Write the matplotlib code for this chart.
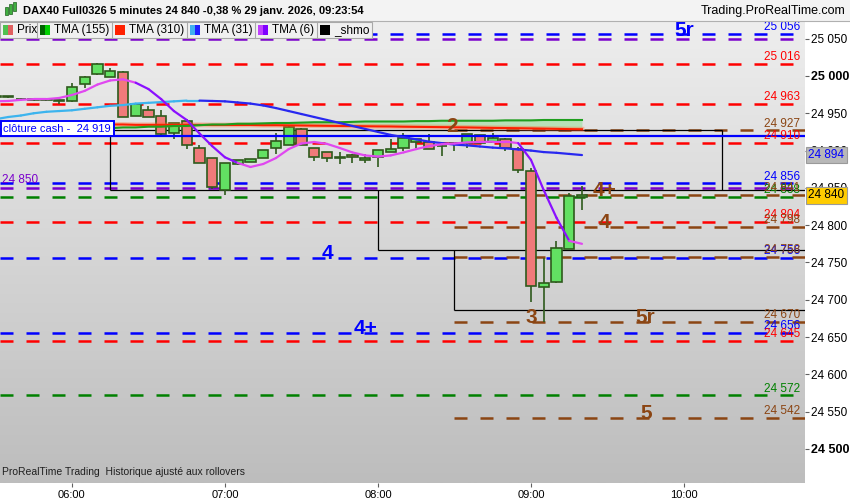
import matplotlib
matplotlib.use("Agg")
import matplotlib.pyplot as plt
import matplotlib.dates as mdates
import matplotlib.transforms as mtransforms
from matplotlib.collections import LineCollection
from matplotlib.colors import LinearSegmentedColormap
from matplotlib.patches import Rectangle
import numpy as np
import pandas as pd

plt.rcParams['font.family'] = ['Liberation Sans', 'DejaVu Sans']

# bougies 5 minutes DAX40, de 05:30 a 09:20
heures = pd.date_range("2026-01-29 05:30", periods=47, freq="5min")
ouv = [24972, 24972, 24969, 24968, 24968, 24967,
       24966, 24989, 25002, 24999, 25006, 24947, 24955, 24947, 24923, 24940,
       24903, 24890, 24847, 24882, 24885, 24890, 24903, 24908, 24929, 24904,
       24898, 24892, 24894, 24887, 24892, 24898, 24904, 24912, 24912, 24906,
       24910, 24910, 24921, 24911, 24916, 24902, 24873, 24717, 24724, 24768, 24838]
haut = [24973, 24973, 24970, 24969, 24969, 24968,
        24990, 25000, 25017, 25011, 25007, 24963, 24960, 24954, 24937, 24942,
        24908, 24890, 24883, 24887, 24889, 24901, 24923, 24933, 24930, 24904,
        24898, 24898, 24896, 24896, 24901, 24916, 24923, 24916, 24922, 24907,
        24911, 24922, 24921, 24924, 24917, 24905, 24876, 24756, 24779, 24843, 24852]
bas = [24972, 24971, 24968, 24967, 24967, 24963,
       24965, 24984, 25001, 24999, 24945, 24947, 24945, 24921, 24916, 24902,
       24883, 24848, 24840, 24881, 24885, 24890, 24895, 24908, 24908, 24886,
       24885, 24882, 24884, 24883, 24878, 24898, 24900, 24904, 24902, 24893,
       24900, 24904, 24910, 24911, 24900, 24870, 24697, 24670, 24723, 24768, 24821]
clot = [24972.5, 24972.5, 24969.5, 24968.5, 24968.5, 24967.5,
        24985, 24998, 25016, 25007, 24945, 24963, 24945, 24922, 24937, 24908,
        24883, 24851, 24883, 24887, 24889, 24901, 24913, 24931, 24908, 24891,
        24890, 24890, 24891, 24890, 24901, 24902, 24917, 24916, 24902, 24906,
        24910, 24922, 24910, 24917, 24904, 24874, 24718, 24722, 24769, 24839, 24840]

# moyennes mobiles
tma155 = [24929, 24929, 24929, 24929, 24929, 24930, 24930, 24930, 24930, 24930,
          24931, 24931, 24932, 24932, 24933, 24933, 24934, 24935, 24935, 24936,
          24936, 24936.5, 24937, 24937, 24937.5, 24938, 24938, 24938, 24938.5, 24939,
          24939, 24939, 24939, 24939.5, 24939.5, 24940, 24940, 24940, 24940, 24940,
          24940.5, 24940.5, 24940.5, 24941, 24941, 24941, 24941]
tma310 = [24936, 24936, 24936, 24935.5, 24935.5, 24935.5, 24935, 24935, 24935, 24935,
          24935, 24934.5, 24934.5, 24934.5, 24934.5, 24934.5, 24934.5, 24934.3, 24934.3, 24934.3,
          24934.3, 24934, 24934, 24933.8, 24933.6, 24933.4, 24933.2, 24933, 24932.8, 24932.6,
          24932.4, 24932.3, 24932, 24931.8, 24931.6, 24931.4, 24931.2, 24931, 24930.7, 24930.4,
          24930.2, 24930, 24929.7, 24929.4, 24929.1, 24928.8, 24928.6]
tma31 = [24942, 24945, 24947, 24950, 24952, 24953, 24954, 24956, 24958, 24960,
         24961, 24963, 24964, 24965, 24966, 24967, 24967, 24966.5, 24966, 24964.5,
         24963, 24960.5, 24957, 24953, 24949, 24945, 24941, 24937, 24933, 24929,
         24925, 24921, 24918, 24915, 24912, 24910, 24908, 24907, 24905.5, 24904,
         24903, 24901.5, 24900, 24898, 24897, 24895.5, 24894]
tma6 = [24966, 24966.5, 24968, 24969, 24969, 24970.5, 24974.5, 24980, 24988.5, 24994,
        24995.5, 24991, 24982.5, 24969, 24953, 24941, 24923, 24906, 24891, 24883.5,
        24878, 24882, 24890, 24902, 24909.5, 24911.5, 24909, 24903.5, 24897.5, 24893.5,
        24892, 24893.5, 24897.5, 24902, 24906, 24908.5, 24909.5, 24911, 24911.5, 24912,
        24912, 24910, 24887.5, 24847, 24810, 24779, 24775]

# niveaux horizontaux
niv_bleu = [25056, 24856, 24756, 24656]
niv_violet = [25050, 24850]
niv_rouge = [25016, 24963, 24910, 24804, 24645]
niv_vert = [24838, 24572]
niv_marron = [24927, 24841, 24798, 24758, 24670, 24542]
debut_marron = "08:30"
cloture_cash = 24919
escalier_niv = [24927, 24847, 24767, 24686]
escalier_deb = ["06:15", "06:15", "08:00", "08:30"]
escalier_fin_haut = "10:15"

rep_bleu = [("5r", "10:00", 25056), ("4", "07:40", 24756), ("4+", "07:55", 24656)]
rep_marron = [("2", "08:29", 24927), ("4+", "09:29", 24841), ("4", "09:29", 24798),
              ("3", "09:00", 24670), ("5r", "09:45", 24670), ("5", "09:45", 24542)]

dernier = 24840
tma31_dernier = 24894
graduations = [24500, 24550, 24600, 24650, 24700, 24750, 24800, 24850, 24900, 24950, 25000, 25050]
heures_axe = ["06:00", "07:00", "08:00", "09:00", "10:00"]

BLEU = '#0000ff'
VIOLET = '#7a00cc'
ROUGE = '#ff0000'
VERT = '#008000'
MARRON = '#8b4513'


def t(hm):
    return mdates.date2num(pd.Timestamp("2026-01-29 " + hm))


def fmt(v):
    return f"{int(round(v)):,}".replace(",", " ")


W, H = 850, 500
fig = plt.figure(figsize=(8.5, 5), dpi=100)
fig.patch.set_facecolor('white')
ax = fig.add_axes([0, 17 / H, 805 / W, 462 / H])

xmin = t("06:00") - 28.2 / 1440
xmax = t("10:00") + 47.45 / 1440

# fond degrade gris
fond = LinearSegmentedColormap.from_list('fond', ['#eeeeee', '#bdbdbd'])
ax.imshow(np.linspace(0, 1, 256).reshape(-1, 1), cmap=fond, extent=[0, 1, 0, 1],
          transform=ax.transAxes, aspect='auto', zorder=0)

tiret = (0, (5.2, 5.2))
blend = mtransforms.blended_transform_factory(ax.transAxes, ax.transData)

for v in niv_bleu:
    ax.axhline(v, color=BLEU, lw=1.8, ls=tiret, zorder=2)
for v in niv_violet:
    ax.axhline(v - 0.1, color=VIOLET, lw=1.8, ls=tiret, zorder=2)
for v in niv_rouge:
    ax.axhline(v, color=ROUGE, lw=1.8, ls=tiret, zorder=2)
for v in niv_vert:
    ax.axhline(v, color=VERT, lw=1.8, ls=tiret, zorder=2)
for v in niv_marron:
    ax.hlines(v, t(debut_marron), xmax, color=MARRON, lw=1.8, linestyles=[tiret], zorder=2)

# etiquettes des niveaux a droite
for liste, coul in [(niv_bleu, BLEU), (niv_rouge, ROUGE), (niv_vert, VERT), (niv_marron, MARRON)]:
    for v in liste:
        ax.text(0.994, v + 1, fmt(v), transform=blend, ha='right', va='bottom',
                color=coul, fontsize=8.5, zorder=6)
ax.text(0.003, niv_violet[1] + 2, fmt(niv_violet[1]), transform=blend, ha='left', va='bottom',
        color=VIOLET, fontsize=8.5, zorder=6)

# escalier de lignes noires
for i, (niv, deb) in enumerate(zip(escalier_niv, escalier_deb)):
    x2 = t(escalier_fin_haut) if i == 0 else xmax
    ax.hlines(niv, t(deb), x2, color='black', lw=0.9, zorder=2.5)
for i in range(1, len(escalier_niv)):
    ax.vlines(t(escalier_deb[i]), escalier_niv[i], escalier_niv[i - 1], color='black', lw=0.9, zorder=2.5)
ax.vlines(t(escalier_fin_haut), escalier_niv[1], escalier_niv[0], color='black', lw=0.9, zorder=2.5)

# cloture cash
ax.axhline(cloture_cash, color=BLEU, lw=1.6, zorder=4)
ax.annotate("clôture cash -  " + fmt(cloture_cash), xy=(0.0, cloture_cash), xycoords=blend,
            xytext=(2.5, 2.0), textcoords='offset points', ha='left', va='bottom',
            color=BLEU, fontsize=8, zorder=7,
            bbox=dict(boxstyle='square,pad=0.22', fc='white', ec=BLEU, lw=1.4))

# bougies
x = mdates.date2num(heures)
o = np.array(ouv)
c = np.array(clot)
hausse = c >= o
larg = 4.05 / 1440
ax.vlines(x, bas, haut, color='#2e5a1c', lw=1.2, zorder=3)
ax.bar(x, np.maximum(np.abs(c - o), 0.8), bottom=np.minimum(o, c), width=larg,
       color=np.where(hausse, '#62e062', '#f07a7a'), edgecolor='#2e5a1c', linewidth=1.2, zorder=3.5)


def trace_ma(vals, c_hausse, c_baisse, seuil=0.0, lw=1.6, z=5):
    v = np.array(vals, float)
    pts = np.column_stack([x, v])
    segs = np.stack([pts[:-1], pts[1:]], axis=1)
    cols = [c_hausse if d >= -seuil else c_baisse for d in np.diff(v)]
    ax.add_collection(LineCollection(segs, colors=cols, linewidths=lw, zorder=z, capstyle='round'))


g = np.array(tma155)
r = np.array(tma310)
ax.fill_between(x, r, g, where=g > r, color='#8fe08f', alpha=0.5, zorder=4, lw=0)
ax.plot(x, r, color='#ff6a30', lw=3.5, alpha=0.35, zorder=4.2)
ax.plot(x, r, color='#ff2000', lw=1.5, zorder=4.3)
ax.plot(x, g, color='#1e9e1e', lw=1.5, zorder=4.4)
trace_ma(tma31, '#3cb4ee', '#2828f0', seuil=0.0)
trace_ma(tma6, '#e048f0', '#8a10ff', seuil=6.0)

# reperes en gros caracteres
for txt, hm, v in rep_bleu:
    ax.annotate(txt, xy=(t(hm), v), xytext=(0, 3), textcoords='offset points', ha='center', va='center',
                color=BLEU, fontsize=15, fontweight='bold', zorder=8)
for txt, hm, v in rep_marron:
    ax.annotate(txt, xy=(t(hm), v), xytext=(0, 3), textcoords='offset points', ha='center', va='center',
                color=MARRON, fontsize=15, fontweight='bold', zorder=8)

ax.text(0.003, 0.012, "ProRealTime Trading  Historique ajusté aux rollovers", transform=ax.transAxes,
        ha='left', va='bottom', fontsize=7.5, color='#202020', zorder=8)

ax.set_xlim(xmin, xmax)
ax.set_ylim(24454.4, 25073.7)
for s in ax.spines.values():
    s.set_visible(False)

ax.yaxis.tick_right()
ax.set_yticks(graduations, [fmt(v) for v in graduations])
for lab, v in zip(ax.get_yticklabels(), graduations):
    if v % 500 == 0:
        lab.set_fontweight('bold')
        lab.set_fontsize(9)
    else:
        lab.set_fontsize(8.5)
ax.tick_params(axis='y', direction='out', length=3, color='#606060', pad=1.5)
ax.set_xticks([t(h) for h in heures_axe], heures_axe)
ax.tick_params(axis='x', direction='out', length=3, color='#606060', labelsize=8, pad=2)

# etiquettes de prix a droite
ax.text(1.004, tma31_dernier, fmt(tma31_dernier), transform=blend, ha='left', va='center',
        color=BLEU, fontsize=8.5, zorder=10, clip_on=False,
        bbox=dict(boxstyle='square,pad=0.2', fc='#b8b8b8', ec='#9a9a9a', lw=0.8))
ax.text(1.004, dernier, fmt(dernier), transform=blend, ha='left', va='center',
        color='black', fontsize=8.5, zorder=10, clip_on=False,
        bbox=dict(boxstyle='square,pad=0.2', fc='#ffcc00', ec='#9a9a9a', lw=0.8))


# en-tete et legende (coordonnees en pixels)
def px(x0, y0, w, h):
    return (x0 / W, 1 - (y0 + h) / H), w / W, h / H


xy, w, h = px(0, 0, W, 21)
fig.add_artist(Rectangle(xy, w, h, transform=fig.transFigure, fc='#f3f3f3', ec='none', zorder=20))
fig.add_artist(plt.Line2D([0, 1], [1 - 20.5 / H] * 2, transform=fig.transFigure, color='#b0b0b0', lw=0.8, zorder=21))
for dx, y0, hh in [(6, 7, 8), (10, 4, 10), (14, 2, 9)]:
    xy, w, h = px(dx - 1.5, y0, 3, hh)
    fig.add_artist(Rectangle(xy, w, h, transform=fig.transFigure, fc='#40b040', ec='#206020', lw=0.5, zorder=22))
fig.text(23 / W, 1 - 11 / H, "DAX40 Full0326 5 minutes 24 840 -0,38 % 29 janv. 2026, 09:23:54",
         ha='left', va='center', fontsize=8, fontweight='bold', zorder=22)
fig.text(845 / W, 1 - 11 / H, "Trading.ProRealTime.com", ha='right', va='center', fontsize=9, zorder=22)

legende = ["Prix", "TMA (155)", "TMA (310)", "TMA (31)", "TMA (6)", "_shmo"]
pastilles = [('#50c050', '#e06060'), ('#006400', '#00d000'), ('#ff2000', '#ff2000'),
             ('#40b0f0', '#2020ff'), ('#c040ff', '#8000ff'), ('#000000', '#000000')]
separ = [0, 37, 112, 187, 255, 317, 372]
xy, w, h = px(0, 22, separ[-1], 16)
fig.add_artist(Rectangle(xy, w, h, transform=fig.transFigure, fc='#f0f0f0', ec='#a8a8a8', lw=0.8, zorder=20))
for i, (nom, (c1, c2)) in enumerate(zip(legende, pastilles)):
    x0 = separ[i]
    xy, w, h = px(x0 + 3, 25, 5, 10)
    fig.add_artist(Rectangle(xy, w, h, transform=fig.transFigure, fc=c1, ec='none', zorder=21))
    xy, w, h = px(x0 + 8, 25, 5, 10)
    fig.add_artist(Rectangle(xy, w, h, transform=fig.transFigure, fc=c2, ec='none', zorder=21))
    fig.text((x0 + 17) / W, 1 - 30 / H, nom, ha='left', va='center', fontsize=8.5, zorder=22)
    if i > 0:
        fig.add_artist(plt.Line2D([x0 / W] * 2, [1 - 22 / H, 1 - 38 / H], transform=fig.transFigure,
                                  color='#a8a8a8', lw=0.8, zorder=21))

fig.savefig("out.png", dpi=100)
